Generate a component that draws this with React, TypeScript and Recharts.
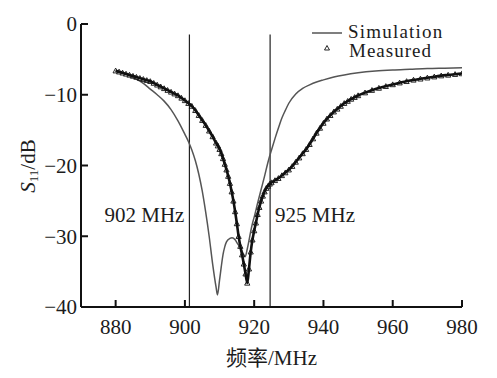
import React from 'react';
import { LineChart, Line, XAxis, YAxis, ReferenceLine, ReferenceDot, Legend, Label } from 'recharts';

const simFreq = [880, 882, 884, 886, 888, 890, 892, 894, 896, 898, 900, 901, 902, 903, 904, 905, 906, 907, 908, 909, 909.4, 910, 910.5, 911, 911.5, 912, 913, 913.6, 914.5, 915, 916, 917, 917.4, 918, 918.5, 919, 919.5, 920, 921, 922, 923, 924, 925, 926, 927, 928, 929, 930, 932, 934, 936, 938, 940, 943, 946, 950, 955, 960, 965, 970, 975, 980];
const simS11 = [-6.6, -6.9, -7.3, -7.8, -8.4, -9.2, -10.0, -10.9, -12.1, -13.7, -15.6, -16.6, -17.8, -19.3, -21.2, -23.6, -26.6, -30.0, -33.9, -37.2, -38.3, -36.2, -34.3, -32.6, -31.5, -30.8, -30.3, -30.2, -30.5, -30.9, -31.6, -32.6, -32.9, -31.8, -30.6, -29.3, -28.2, -27.3, -25.3, -23.4, -21.5, -19.5, -17.8, -16.2, -14.7, -13.3, -12.2, -11.2, -9.9, -9.1, -8.6, -8.2, -7.9, -7.5, -7.2, -6.9, -6.65, -6.5, -6.4, -6.3, -6.25, -6.2];

const measFreq = [880, 881, 882, 883, 884, 885, 886, 887, 888, 889, 890, 891, 892, 893, 894, 895, 896, 897, 898, 899, 900, 901, 902, 903, 904, 905, 906, 907, 908, 909, 909.5, 910, 910.5, 911, 911.5, 912, 912.5, 913, 913.5, 914, 914.5, 915, 915.5, 916, 916.5, 917, 917.5, 918, 918.5, 919, 919.5, 920, 920.5, 921, 921.5, 922, 922.5, 923, 923.5, 924, 924.5, 925, 926, 927, 928, 929, 930, 931, 932, 933, 934, 935, 936, 937, 938, 939, 940, 941, 942, 943, 944, 945, 946, 947, 948, 949, 950, 952, 954, 956, 958, 960, 962, 964, 966, 968, 970, 972, 974, 976, 978, 980];
const measS11 = [-6.6, -6.75, -6.9, -7.05, -7.2, -7.35, -7.5, -7.65, -7.8, -7.95, -8.1, -8.35, -8.6, -8.85, -9.1, -9.35, -9.6, -9.85, -10.1, -10.45, -10.8, -11.2, -11.6, -12.2, -12.9, -13.6, -14.3, -15.1, -15.9, -16.8, -17.2, -17.7, -18.3, -19.0, -19.8, -20.6, -21.5, -22.5, -23.7, -25.0, -26.5, -28.2, -30.0, -31.4, -32.6, -33.9, -35.3, -36.6, -34.6, -32.2, -30.5, -29.2, -28.1, -26.9, -25.9, -25.0, -24.3, -23.7, -23.2, -22.9, -22.6, -22.4, -22.1, -21.8, -21.4, -21.0, -20.6, -20.1, -19.5, -18.9, -18.3, -17.7, -17.0, -16.2, -15.4, -14.7, -14.0, -13.4, -12.9, -12.4, -12.0, -11.6, -11.2, -10.9, -10.6, -10.35, -10.1, -9.7, -9.35, -9.05, -8.8, -8.55, -8.3, -8.1, -7.9, -7.75, -7.6, -7.45, -7.3, -7.2, -7.1, -7.0];

const xTicks = [880, 900, 920, 940, 960, 980];
const yTicks = [0, -10, -20, -30, -40];
const bandEdges = [901.3, 924.6];
const bandLabels = ['902 MHz', '925 MHz'];
const seriesNames = ['Simulation', 'Measured'];

const simData = simFreq.map((f, i) => ({ f, s: simS11[i] }));
const measData = measFreq.map((f, i) => ({ f, m: measS11[i] }));

const FONT = 'Liberation Serif, Times New Roman, Tinos, DejaVu Serif, Noto Sans CJK SC, serif';
const TXT = '#1c1c1c';

const fmt = (v: number) => String(v).replace('-', '\u2212');

const Tri = (props: any) => {
  const { cx, cy, index } = props;
  if (cx == null || cy == null) return <g key={index} />;
  const s = 2.6;
  return (
    <path
      key={index}
      d={`M${cx},${cy - s} L${cx + s},${cy + s * 0.85} L${cx - s},${cy + s * 0.85} Z`}
      fill="none"
      stroke="#111"
      strokeWidth={0.9}
    />
  );
};

const LegendBox = () => (
  <svg width={190} height={50} style={{ overflow: 'visible', display: 'block' }}>
    <line x1={7} y1={15} x2={37} y2={15} stroke="#555" strokeWidth={1.5} />
    <text x={43} y={19.5} style={{ fontFamily: FONT, fontSize: 19, letterSpacing: 1.2 }} fill={TXT}>{seriesNames[0]}</text>
    <path d="M22,27.5 L24.5,32 L19.5,32 Z" fill="none" stroke="#111" strokeWidth={0.9} />
    <text x={44} y={38.5} style={{ fontFamily: FONT, fontSize: 19, letterSpacing: 1.0 }} fill={TXT}>{seriesNames[1]}</text>
  </svg>
);

const YLabel = () => (
  <text
    x={28}
    y={166}
    transform="rotate(-90 28 166)"
    textAnchor="middle"
    dominantBaseline="central"
    style={{ fontFamily: FONT, fontSize: 21 }}
    fill={TXT}
  >
    <tspan fontStyle="italic">S</tspan>
    <tspan fontSize={13} dy={5}>11</tspan>
    <tspan dy={-5}>/dB</tspan>
  </text>
);

const textStyle = { fontFamily: FONT, fontSize: 21, fill: TXT };

export default function App() {
  return (
    <div style={{ position: 'absolute', left: 0, top: 0, width: 497, height: 378, background: '#fff', fontFamily: FONT }}>
      <LineChart width={497} height={378} data={simData} margin={{ top: 24, right: 35, bottom: 0, left: 0 }} style={{ fontFamily: FONT }}>
        <XAxis
          type="number"
          dataKey="f"
          domain={[870, 980]}
          ticks={xTicks}
          allowDataOverflow
          height={71}
          tickSize={-7}
          tickMargin={19}
          axisLine={{ stroke: '#111', strokeWidth: 2 }}
          tickLine={{ stroke: '#111', strokeWidth: 2 }}
          tick={{ ...textStyle, style: textStyle }}
        >
          <Label value="频率/MHz" position="insideBottom" offset={13} style={textStyle} />
        </XAxis>
        <YAxis
          type="number"
          domain={[-40, 0]}
          ticks={yTicks}
          allowDataOverflow
          width={81}
          tickSize={-7}
          tickMargin={11}
          tickFormatter={fmt}
          axisLine={{ stroke: '#111', strokeWidth: 2 }}
          tickLine={{ stroke: '#111', strokeWidth: 2 }}
          tick={{ ...textStyle, style: textStyle }}
        >
          <Label content={<YLabel />} />
        </YAxis>
        {bandEdges.map((x) => (
          <ReferenceLine
            key={'l' + x}
            segment={[{ x, y: -1.5 }, { x, y: -40 }]}
            stroke="#222"
            strokeWidth={1.2}
          />
        ))}
        <ReferenceDot x={bandEdges[0]} y={-27} r={0} fill="none" stroke="none"
          label={{ value: bandLabels[0], position: 'left', offset: 5, style: textStyle }} />
        <ReferenceDot x={bandEdges[1]} y={-27} r={0} fill="none" stroke="none"
          label={{ value: bandLabels[1], position: 'right', offset: 5, style: textStyle }} />
        <Line
          data={simData}
          dataKey="s"
          type="monotone"
          stroke="#555"
          strokeWidth={1.5}
          dot={false}
          isAnimationActive={false}
        />
        <Line
          data={measData}
          dataKey="m"
          type="monotone"
          stroke="#111"
          strokeWidth={2.6}
          dot={<Tri />}
          isAnimationActive={false}
        />
        <Legend
          layout="horizontal"
          verticalAlign="middle"
          align="center"
          wrapperStyle={{ left: 305, top: 18, width: 190, height: 50 }}
          content={<LegendBox />}
        />
      </LineChart>
    </div>
  );
}
